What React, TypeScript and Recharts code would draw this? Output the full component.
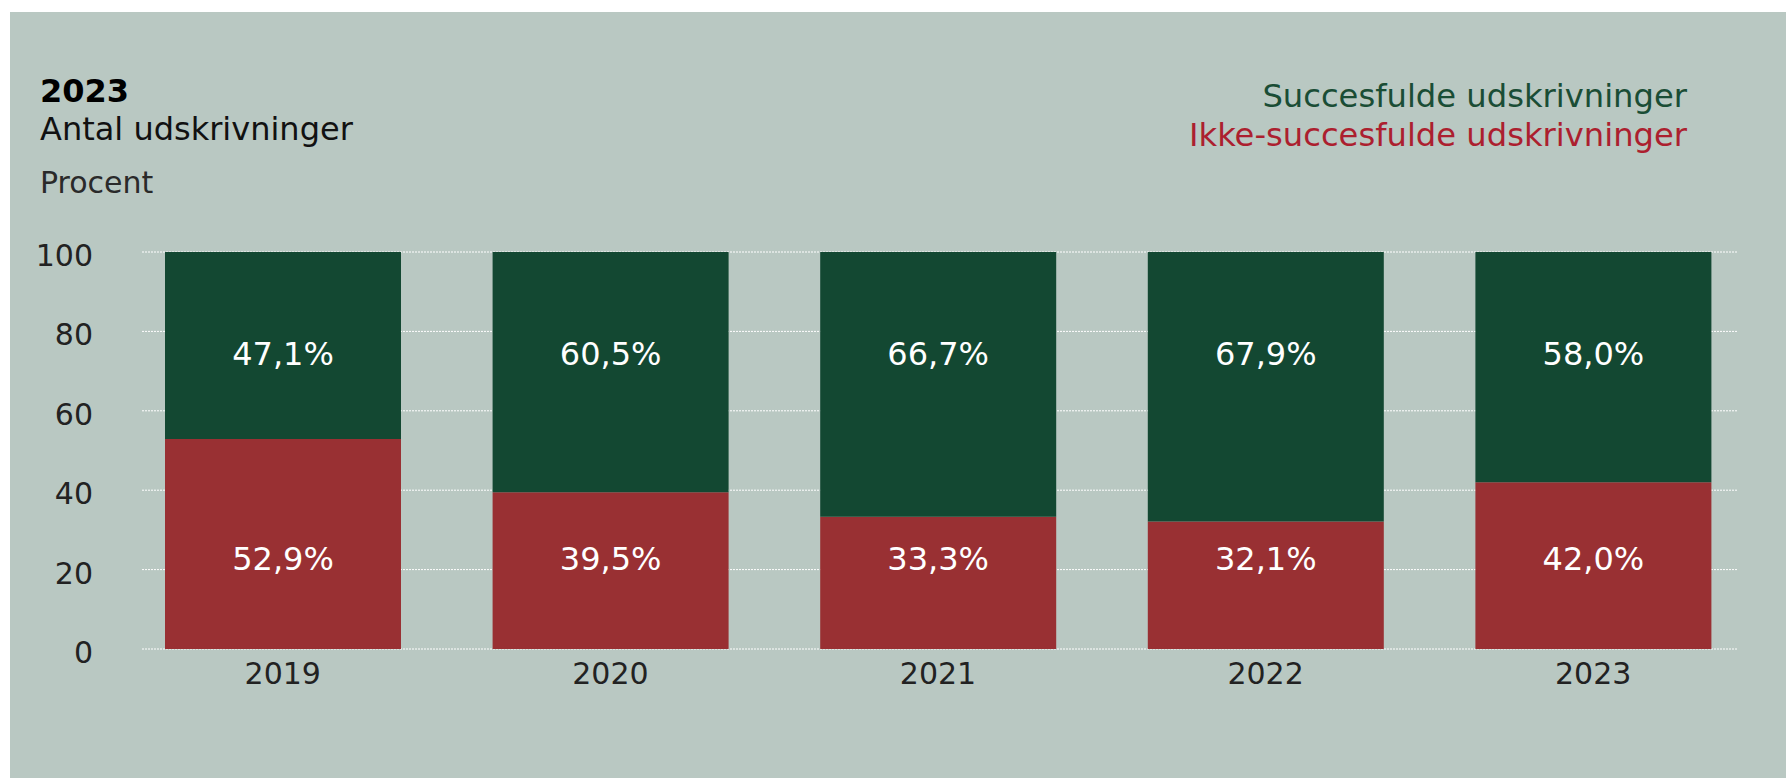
import React from "react";
import { BarChart, Bar, XAxis, YAxis, CartesianGrid, LabelList } from "recharts";

const years = ["2019", "2020", "2021", "2022", "2023"];
const succesfulde = [47.1, 60.5, 66.7, 67.9, 58.0];
const ikkeSuccesfulde = [52.9, 39.5, 33.3, 32.1, 42.0];
const yTicks = [0, 20, 40, 60, 80, 100];

const data = years.map((year, i) => ({
  year,
  succes: succesfulde[i],
  ikke: ikkeSuccesfulde[i],
}));

const BG = "#b9c8c2";
const GREEN = "#134832";
const RED = "#993033";
const FONT = "'DejaVu Sans', Verdana, sans-serif";

const W = 1776;
const H = 766;

const fmt = (v: number) => v.toFixed(1).replace(".", ",") + "%";

const YTick = (props: any) => {
  const { x, y, payload } = props;
  return (
    <text x={x} y={y + 14} textAnchor="end" fill="#222" fontSize={30} fontFamily={FONT}>
      {payload.value}
    </text>
  );
};

const XTick = (props: any) => {
  const { x, y, payload } = props;
  return (
    <text x={x} y={y + 35} textAnchor="middle" fill="#222" fontSize={30} fontFamily={FONT}>
      {payload.value}
    </text>
  );
};

// green labels sit a fixed distance below the top of the plot
const TopLabel = (props: any) => {
  const { x, y, width, value } = props;
  return (
    <text x={x + width / 2} y={y + 113} textAnchor="middle" fill="#fff" fontSize={32} fontFamily={FONT}>
      {fmt(value)}
    </text>
  );
};

// red labels sit a fixed distance above the zero line
const BottomLabel = (props: any) => {
  const { x, y, width, height, value } = props;
  return (
    <text x={x + width / 2} y={y + height - 79} textAnchor="middle" fill="#fff" fontSize={32} fontFamily={FONT}>
      {fmt(value)}
    </text>
  );
};

const GridLine = (props: any) => {
  const { x1, x2, y1, y2 } = props;
  return (
    <line
      x1={x1 + 23}
      x2={x2 - 19}
      y1={y1}
      y2={y2}
      stroke="#ffffff"
      strokeWidth={1}
      strokeDasharray="2 1"
    />
  );
};

export default function App() {
  return (
    <div style={{ position: "absolute", left: 10, top: 12, width: W, height: H, background: BG }}>
      <BarChart
        width={W}
        height={H}
        data={data}
        margin={{ top: 240, right: 29, left: 10, bottom: 69 }}
      >
        <CartesianGrid vertical={false} horizontal={GridLine} />
        <XAxis
          dataKey="year"
          axisLine={false}
          tickLine={false}
          tickSize={0}
          tickMargin={0}
          height={60}
          tick={XTick}
        />
        <YAxis
          domain={[0, 100]}
          ticks={yTicks}
          axisLine={false}
          tickLine={false}
          tickSize={0}
          tickMargin={26}
          width={99}
          tick={YTick}
        />
        <Bar dataKey="ikke" stackId="a" fill={RED} barSize={236} isAnimationActive={false}>
          <LabelList dataKey="ikke" content={BottomLabel} />
        </Bar>
        <Bar dataKey="succes" stackId="a" fill={GREEN} barSize={236} isAnimationActive={false}>
          <LabelList dataKey="succes" content={TopLabel} />
        </Bar>
      </BarChart>
      <svg
        width={W}
        height={H}
        style={{ position: "absolute", left: 0, top: 0, pointerEvents: "none" }}
      >
        <text x={30} y={90} fontSize={32} fontWeight="bold" fill="#000" fontFamily={FONT}>
          2023
        </text>
        <text x={30} y={128} fontSize={32} fill="#111" fontFamily={FONT}>
          Antal udskrivninger
        </text>
        <text x={30} y={181} fontSize={30} fill="#2a2a2a" fontFamily={FONT}>
          Procent
        </text>
        <text x={1677} y={95} textAnchor="end" fontSize={32.2} fill="#1a4d35" fontFamily={FONT}>
          Succesfulde udskrivninger
        </text>
        <text x={1677} y={134} textAnchor="end" fontSize={32.2} fill="#ac1f2f" fontFamily={FONT}>
          Ikke-succesfulde udskrivninger
        </text>
      </svg>
    </div>
  );
}
